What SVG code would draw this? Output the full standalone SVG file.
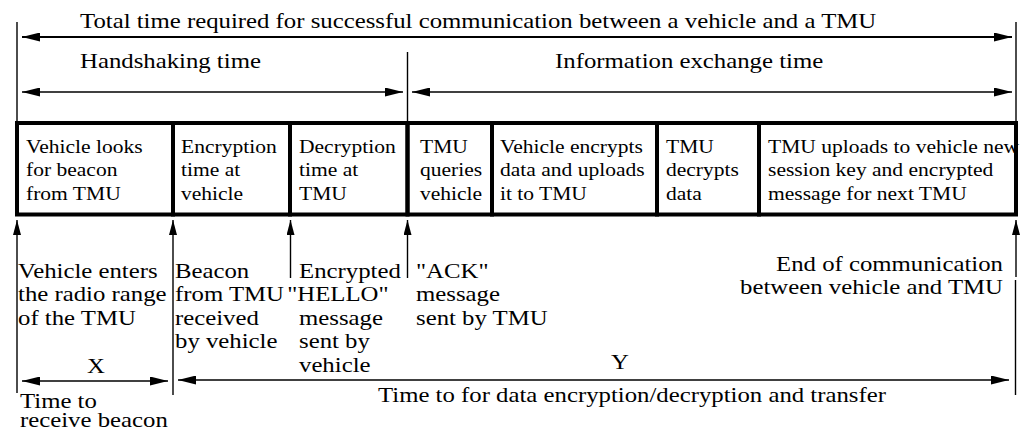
<svg xmlns="http://www.w3.org/2000/svg" width="1026" height="432" viewBox="0 0 1026 432">
<style>
.t21{font-size:21px}
.t18{font-size:18.25px}
.ln{stroke:#000;stroke-width:1.4;fill:none}
.cell{stroke:#000;stroke-width:4;fill:none}
</style>
<defs>
<marker id="ae" markerUnits="userSpaceOnUse" markerWidth="20" markerHeight="10" refX="18" refY="4.5" orient="auto"><path d="M0,0 L18,4.5 L0,9 z" fill="#000"/></marker>
<marker id="as" markerUnits="userSpaceOnUse" markerWidth="20" markerHeight="10" refX="0" refY="4.5" orient="auto"><path d="M18,0 L0,4.5 L18,9 z" fill="#000"/></marker>
<marker id="au" markerUnits="userSpaceOnUse" markerWidth="16" markerHeight="9" refX="15" refY="4" orient="auto"><path d="M0,0 L15,4 L0,8 z" fill="#000"/></marker>
</defs>
<rect width="1026" height="432" fill="#fff"/>

<g id="connectors">
<line class="ln" x1="17" y1="22" x2="17" y2="124"/>
<line class="ln" x1="1016" y1="22" x2="1016" y2="124"/>
<line class="ln" x1="407.5" y1="52" x2="407.5" y2="124"/>
<line class="ln" x1="22" y1="37" x2="1012" y2="37" style="stroke-width:1.8" marker-start="url(#as)" marker-end="url(#ae)"/>
<line class="ln" x1="22" y1="92" x2="403" y2="92" marker-start="url(#as)" marker-end="url(#ae)"/>
<line class="ln" x1="412" y1="92" x2="1012" y2="92" marker-start="url(#as)" marker-end="url(#ae)"/>
<line class="ln" x1="17" y1="393" x2="17" y2="220" marker-end="url(#au)"/>
<line class="ln" x1="173" y1="395" x2="173" y2="220" marker-end="url(#au)"/>
<line class="ln" x1="290.5" y1="278" x2="290.5" y2="220" marker-end="url(#au)"/>
<line class="ln" x1="407.5" y1="278" x2="407.5" y2="220" marker-end="url(#au)"/>
<line class="ln" x1="1016" y1="277" x2="1016" y2="220" marker-end="url(#au)"/>
<line class="ln" x1="1015.5" y1="280" x2="1015.5" y2="395"/>
<line class="ln" x1="22" y1="381" x2="168" y2="381" marker-start="url(#as)" marker-end="url(#ae)"/>
<line class="ln" x1="178" y1="380" x2="1009" y2="380" marker-start="url(#as)" marker-end="url(#ae)"/>
</g>

<g font-family="'Liberation Serif', 'Times New Roman', Times, serif" fill="#000">
<g id="titles">
<text class="t21" transform="translate(80 28) scale(1.18 1)">Total time required for successful communication between a vehicle and a TMU</text>
<text class="t21" transform="translate(80 68) scale(1.18 1)">Handshaking time</text>
<text class="t21" transform="translate(555 68) scale(1.18 1)">Information exchange time</text>
</g>

<g id="cell1"><rect class="cell" x="17" y="123" width="156" height="91.5"/>
<text class="t18" transform="translate(26 153) scale(1.18 1)"><tspan x="0">Vehicle looks</tspan><tspan x="0" dy="23.5">for beacon</tspan><tspan x="0" dy="23.5">from TMU</tspan></text></g>
<g id="cell2"><rect class="cell" x="173" y="123" width="117" height="91.5"/>
<text class="t18" transform="translate(181 153) scale(1.18 1)"><tspan x="0">Encryption</tspan><tspan x="0" dy="23.5">time at</tspan><tspan x="0" dy="23.5">vehicle</tspan></text></g>
<g id="cell3"><rect class="cell" x="290" y="123" width="117.5" height="91.5"/>
<text class="t18" transform="translate(299 153) scale(1.18 1)"><tspan x="0">Decryption</tspan><tspan x="0" dy="23.5">time at</tspan><tspan x="0" dy="23.5">TMU</tspan></text></g>
<g id="cell4"><rect class="cell" x="407.5" y="123" width="84.5" height="91.5"/>
<text class="t18" transform="translate(420 153) scale(1.18 1)"><tspan x="0">TMU</tspan><tspan x="0" dy="23.5">queries</tspan><tspan x="0" dy="23.5">vehicle</tspan></text></g>
<g id="cell5"><rect class="cell" x="492" y="123" width="165" height="91.5"/>
<text class="t18" transform="translate(500 153) scale(1.18 1)"><tspan x="0">Vehicle encrypts</tspan><tspan x="0" dy="23.5">data and uploads</tspan><tspan x="0" dy="23.5">it to TMU</tspan></text></g>
<g id="cell6"><rect class="cell" x="657" y="123" width="102" height="91.5"/>
<text class="t18" transform="translate(666 153) scale(1.18 1)"><tspan x="0">TMU</tspan><tspan x="0" dy="23.5">decrypts</tspan><tspan x="0" dy="23.5">data</tspan></text></g>
<g id="cell7">
<text class="t18" transform="translate(768 153) scale(1.18 1)"><tspan x="0">TMU uploads to vehicle new</tspan><tspan x="0" dy="23.5">session key and encrypted</tspan><tspan x="0" dy="23.5">message for next TMU</tspan></text>
<rect class="cell" x="759" y="123" width="257" height="91.5"/></g>

<g id="ev1"><text class="t21" transform="translate(18 278) scale(1.18 1)"><tspan x="0">Vehicle enters</tspan><tspan x="0" dy="23.5">the radio range</tspan><tspan x="0" dy="23.5">of the TMU</tspan></text></g>
<g id="ev2"><text class="t21" transform="translate(175 278) scale(1.18 1)"><tspan x="0">Beacon</tspan><tspan x="0" dy="23.5">from TMU</tspan><tspan x="0" dy="23.5">received</tspan><tspan x="0" dy="23.5">by vehicle</tspan></text></g>
<g id="ev3"><text class="t21" transform="translate(299 278) scale(1.18 1)"><tspan x="0">Encrypted</tspan><tspan x="-10" dy="23.5">"HELLO"</tspan><tspan x="0" dy="23.5">message</tspan><tspan x="0" dy="23.5">sent by</tspan><tspan x="0" dy="23.5">vehicle</tspan></text></g>
<g id="ev4"><text class="t21" transform="translate(416 278) scale(1.18 1)"><tspan x="0">"ACK"</tspan><tspan x="0" dy="23.5">message</tspan><tspan x="0" dy="23.5">sent by TMU</tspan></text></g>
<g id="ev5"><text class="t21" text-anchor="end" transform="translate(1003 271) scale(1.18 1)"><tspan x="0">End of communication</tspan><tspan x="0" dy="23">between vehicle and TMU</tspan></text></g>

<g id="spans">
<text class="t21" text-anchor="middle" transform="translate(96 373) scale(1.18 1)">X</text>
<text class="t21" text-anchor="middle" transform="translate(620 369) scale(1.18 1)">Y</text>
<text class="t21" transform="translate(20 408) scale(1.18 1)"><tspan x="0">Time to</tspan><tspan x="0" dy="19">receive beacon</tspan></text>
<text class="t21" transform="translate(378 402) scale(1.18 1)">Time to for data encryption/decryption and transfer</text>
</g>
</g>
</svg>
